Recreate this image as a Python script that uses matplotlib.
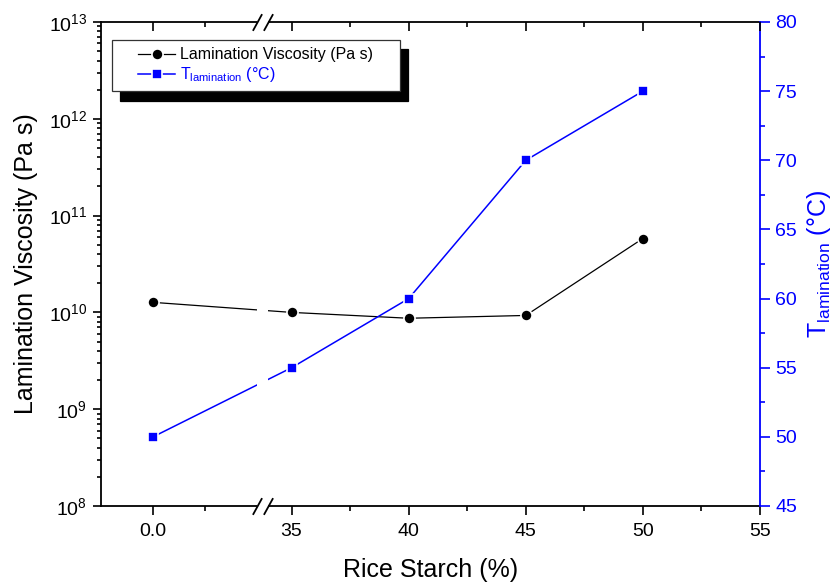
import numpy as np
import matplotlib
matplotlib.use("Agg")
import matplotlib.pyplot as plt
from matplotlib.ticker import FixedLocator, FixedFormatter, LogLocator, NullFormatter, MultipleLocator
from matplotlib.patches import Rectangle
from matplotlib.legend_handler import HandlerLine2D

plt.rcParams['font.family'] = ['Liberation Sans', 'DejaVu Sans']
plt.rcParams['mathtext.fontset'] = 'custom'
plt.rcParams['mathtext.rm'] = 'Liberation Sans'
plt.rcParams['mathtext.it'] = 'Liberation Sans:italic'

# data
starch = [0, 35, 40, 45, 50]
viscosity = [1.27e10, 1.0e10, 8.7e9, 9.3e9, 5.8e10]
t_lamination = [50, 55, 60, 70, 75]

x_ticks = [0, 35, 40, 45, 50, 55]
x_tick_labels = ['0.0', '35', '40', '45', '50', '55']
x_minor = [0.5, 37.5, 42.5, 47.5, 52.5]

blue = '#0000FF'

# broken x axis: piecewise linear scale, gap between 1.0 and 34.0
B1, B2 = 1.0, 34.0


def fwd(x):
    x = np.asarray(x, dtype=float)
    return np.where(x <= B1, 101 + (x + 0.5) * 104,
                    np.where(x <= B2, 257 + (x - B1) * (11 / 33.0),
                             268 + (x - B2) * 23.4))


def inv(p):
    p = np.asarray(p, dtype=float)
    return np.where(p <= 257, (p - 101) / 104 - 0.5,
                    np.where(p <= 268, B1 + (p - 257) * (33.0 / 11),
                             B2 + (p - 268) / 23.4))


fig = plt.figure(figsize=(8.37, 5.85), dpi=100)
ax1 = fig.add_axes([101 / 837, 1 - 506 / 585, 659 / 837, 484 / 585])
ax1.set_xscale('function', functions=(fwd, inv))
ax1.set_xlim(-0.5, 55)
ax1.set_yscale('log')
ax1.set_ylim(1e8, 1e13)

ax2 = ax1.twinx()
ax2.set_ylim(45, 80)

l1, = ax1.plot(starch, viscosity, color='black', lw=0.9, marker='o', ms=8,
               mfc='black', mec='white', mew=1.2, label='Lamination Viscosity (Pa s)')
l2, = ax2.plot(starch, t_lamination, color=blue, lw=1.1, marker='s', ms=7.5,
               mfc=blue, mec='white', mew=1.2, label=r'T$_{\mathrm{lamination}}$ (°C)')

# x ticks (bottom, outward)
ax1.xaxis.set_major_locator(FixedLocator(x_ticks))
ax1.xaxis.set_major_formatter(FixedFormatter(x_tick_labels))
ax1.xaxis.set_minor_locator(FixedLocator(x_minor))
ax1.xaxis.set_minor_formatter(NullFormatter())
ax1.tick_params(axis='x', which='both', bottom=True, top=False, labelsize=14, pad=6)
ax1.tick_params(axis='x', which='major', direction='out', length=6.5, width=1.2)
ax1.tick_params(axis='x', which='minor', direction='out', length=3.5, width=1.2)

# top ticks (inward) on a twin axis
ax3 = ax1.twiny()
ax3.set_xscale('function', functions=(fwd, inv))
ax3.set_xlim(-0.5, 55)
ax3.xaxis.set_major_locator(FixedLocator(x_ticks))
ax3.xaxis.set_minor_locator(FixedLocator(x_minor))
ax3.tick_params(axis='x', which='both', direction='in', labeltop=False, width=1.2)
ax3.tick_params(axis='x', which='major', length=6.5)
ax3.tick_params(axis='x', which='minor', length=3.5)
for s in ax3.spines.values():
    s.set_visible(False)

# left log axis
ax1.yaxis.set_major_locator(LogLocator(base=10, numticks=10))
ax1.yaxis.set_minor_locator(LogLocator(base=10, subs=np.arange(2, 10), numticks=20))
ax1.yaxis.set_minor_formatter(NullFormatter())
ax1.tick_params(axis='y', which='both', direction='out', right=False, labelsize=14, pad=4, width=1.2)
ax1.tick_params(axis='y', which='major', length=6)
ax1.tick_params(axis='y', which='minor', length=3)

for s in ['left', 'bottom', 'top']:
    ax1.spines[s].set_linewidth(1.3)
ax1.spines['right'].set_visible(False)

# right axis
ax2.yaxis.set_major_locator(MultipleLocator(5))
ax2.yaxis.set_minor_locator(MultipleLocator(2.5))
ax2.tick_params(axis='y', which='both', direction='out', colors=blue, labelsize=14, pad=4, width=1.2)
ax2.tick_params(axis='y', which='major', length=7)
ax2.tick_params(axis='y', which='minor', length=3.5)
ax2.spines['right'].set_color(blue)
ax2.spines['right'].set_linewidth(1.3)
for s in ['left', 'bottom', 'top']:
    ax2.spines[s].set_visible(False)

ax1.set_xlabel('Rice Starch (%)', fontsize=18, labelpad=13)
ax1.set_ylabel('Lamination Viscosity (Pa s)', fontsize=18, labelpad=8)
ax2.set_ylabel(r'T$_{\mathrm{lamination}}$ (°C)', fontsize=18, color=blue, labelpad=6)

# axis break: white gap + double slashes
trans = ax2.get_xaxis_transform()
ax2.add_patch(Rectangle((B1, -0.02), B2 - B1, 1.04, transform=trans,
                        facecolor='white', edgecolor='none', clip_on=False, zorder=5))
slash = [(-0.55, -1), (0.55, 1)]
for yy in (0, 1):
    ax2.plot([B1, B2], [yy, yy], transform=trans, linestyle='none', marker=slash,
             ms=12, mew=1.3, color='black', clip_on=False, zorder=6)

leg = ax2.legend(handles=[l1, l2], loc='upper left',
                 bbox_to_anchor=(11 / 659, 0.9, 288 / 659, 0.063), mode='expand',
                 borderaxespad=0, fontsize=11.5, frameon=True, fancybox=False,
                 edgecolor='#333333', framealpha=1,
                 shadow={'color': 'black', 'alpha': 1, 'ox': 6, 'oy': -6.5},
                 handlelength=3.5, handletextpad=0.3, labelspacing=0.2, borderpad=0.45,
                 handler_map={l1: HandlerLine2D(xpad=1.2), l2: HandlerLine2D(xpad=1.2)})
leg.get_frame().set_linewidth(0.9)
leg.get_texts()[1].set_color(blue)

fig.savefig('out.png', dpi=100, facecolor='white')
